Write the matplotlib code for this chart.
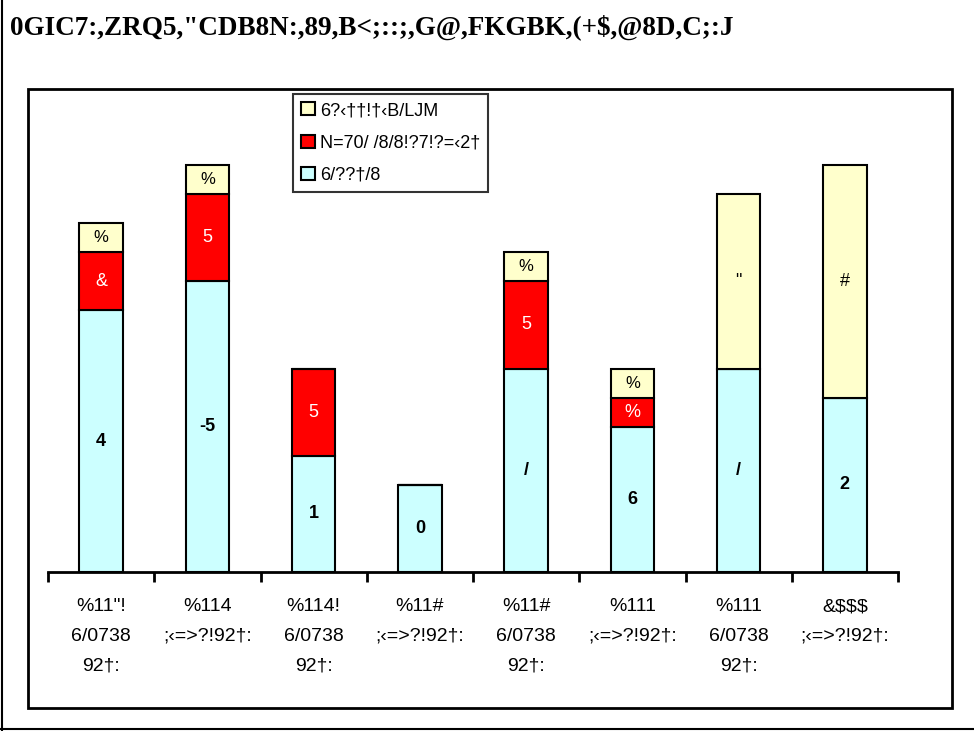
import matplotlib.pyplot as plt
from matplotlib.patches import Rectangle
from matplotlib.lines import Line2D

plt.rcParams['font.family'] = ['Liberation Sans', 'DejaVu Sans']

title = '0GIC7:,ZRQ5,"CDB8N:,89,B<;::;,G@,FKGBK,(+$,@8D,C;:J'

categories = [
    '%11"!\n6/0738\n92\u2020:',
    '%114\n;\u2039=>?!92\u2020:',
    '%114!\n6/0738\n92\u2020:',
    '%11#\n;\u2039=>?!92\u2020:',
    '%11#\n6/0738\n92\u2020:',
    '%111\n;\u2039=>?!92\u2020:',
    '%111\n6/0738\n92\u2020:',
    '&$$$\n;\u2039=>?!92\u2020:',
]

series_names = ['6/??\u2020/8', 'N=70/ /8/8!?7!?=\u20392\u2020', '6?\u2039\u2020\u2020!\u2020\u2039B/LJM']
cyan_vals = [9, 10, 4, 3, 7, 5, 7, 6]
red_vals = [2, 3, 3, 0, 3, 1, 0, 0]
yellow_vals = [1, 1, 0, 0, 1, 1, 6, 8]

cyan_labels = ['4', '-5', '1', '0', '/', '6', '/', '2']
red_labels = ['&', '5', '5', '', '5', '%', '', '']
yellow_labels = ['%', '%', '', '', '%', '%', '"', '#']

colors = ['#CCFFFF', '#FF0000', '#FFFFCC']

fig = plt.figure(figsize=(9.74, 7.31), dpi=100)
ax = fig.add_axes([48 / 974, 159 / 731, 850 / 974, 472 / 731])

x = list(range(len(categories)))
width = 0.41
b1 = ax.bar(x, cyan_vals, width, color=colors[0], edgecolor='black', linewidth=1.5, label=series_names[0])
b2 = ax.bar(x, red_vals, width, bottom=cyan_vals, color=colors[1], edgecolor='black', linewidth=1.5,
            label=series_names[1])
bottoms = [c + r for c, r in zip(cyan_vals, red_vals)]
b3 = ax.bar(x, yellow_vals, width, bottom=bottoms, color=colors[2], edgecolor='black', linewidth=1.5,
            label=series_names[2])

for i in x:
    ax.text(i, cyan_vals[i] / 2, cyan_labels[i], ha='center', va='center', fontsize=13, fontweight='bold')
    if red_vals[i]:
        ax.text(i, cyan_vals[i] + red_vals[i] / 2, red_labels[i], ha='center', va='center',
                fontsize=13, color='white')
    if yellow_vals[i]:
        big = yellow_vals[i] > 2
        ax.text(i, bottoms[i] + yellow_vals[i] / 2, yellow_labels[i], ha='center', va='center',
                fontsize=13 if big else 12, color='black')

ax.set_xlim(-0.5, 7.5)
ax.set_ylim(0, 472 / 29.07)
ax.set_yticks([])
for s in ['top', 'right', 'left']:
    ax.spines[s].set_visible(False)
ax.spines['bottom'].set_linewidth(2)

ax.set_xticks([i - 0.5 for i in range(9)])
ax.set_xticklabels([])
ax.tick_params(axis='x', which='major', length=7, width=2, direction='out')
ax.set_xticks(x, minor=True)
ax.set_xticklabels(categories, minor=True, fontsize=14, linespacing=1.95)
ax.tick_params(axis='x', which='minor', length=0, pad=19)

handles = [b3, b2, b1]
leg = ax.legend(handles, [series_names[2], series_names[1], series_names[0]],
                loc='upper left', bbox_to_anchor=(293 / 974, 637 / 731), bbox_transform=fig.transFigure,
                fancybox=False, shadow=False, frameon=True, fontsize=13,
                handlelength=0.75, handleheight=0.75, handletextpad=0.3, labelspacing=0.85,
                borderpad=0.45, borderaxespad=0)
leg.get_frame().set_edgecolor('black')
leg.get_frame().set_linewidth(1.5)

fig.text(10 / 974, 1 - 27 / 731, title, fontsize=19.5, fontweight='bold', family='Liberation Serif',
         va='center', ha='left')

fig.add_artist(Rectangle((28 / 974, 1 - 708 / 731), 924 / 974, 619 / 731, transform=fig.transFigure,
                         fill=False, edgecolor='black', linewidth=2))
fig.add_artist(Line2D([1.5 / 974, 1.5 / 974], [0, 1], transform=fig.transFigure, color='black', linewidth=1.5))
fig.add_artist(Line2D([0, 1], [2 / 731, 2 / 731], transform=fig.transFigure, color='black', linewidth=1.5))

fig.savefig('out.png', dpi=100)
